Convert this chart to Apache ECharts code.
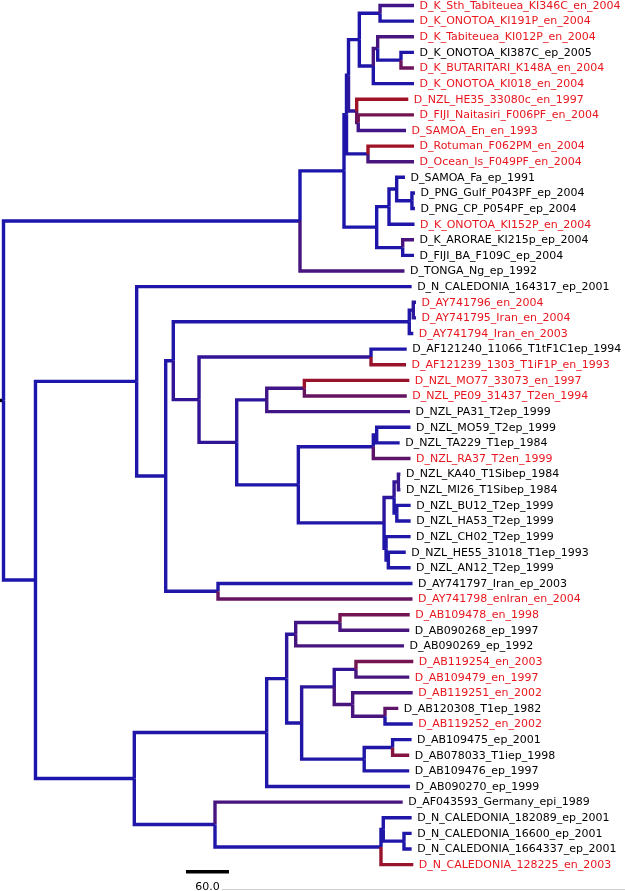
<!DOCTYPE html>
<html>
<head>
<meta charset="utf-8">
<script src="https://cdn.jsdelivr.net/npm/echarts@6/dist/echarts.min.js"></script>
<style>
html,body{margin:0;padding:0;background:#fff;}
#chart{width:625px;height:891px;}
</style>
</head>
<body>
<div id="chart"></div>
<script>
// Leaf order, top to bottom
const leafNames = [
  'D_K_Sth_Tabiteuea_KI346C_en_2004','D_K_ONOTOA_KI191P_en_2004','D_K_Tabiteuea_KI012P_en_2004',
  'D_K_ONOTOA_KI387C_ep_2005','D_K_BUTARITARI_K148A_en_2004','D_K_ONOTOA_KI018_en_2004',
  'D_NZL_HE35_33080c_en_1997','D_FIJI_Naitasiri_F006PF_en_2004','D_SAMOA_En_en_1993',
  'D_Rotuman_F062PM_en_2004','D_Ocean_Is_F049PF_en_2004','D_SAMOA_Fa_ep_1991',
  'D_PNG_Gulf_P043PF_ep_2004','D_PNG_CP_P054PF_ep_2004','D_K_ONOTOA_KI152P_en_2004',
  'D_K_ARORAE_KI215p_ep_2004','D_FIJI_BA_F109C_ep_2004','D_TONGA_Ng_ep_1992',
  'D_N_CALEDONIA_164317_ep_2001','D_AY741796_en_2004','D_AY741795_Iran_en_2004',
  'D_AY741794_Iran_en_2003','D_AF121240_11066_T1tF1C1ep_1994','D_AF121239_1303_T1iF1P_en_1993',
  'D_NZL_MO77_33073_en_1997','D_NZL_PE09_31437_T2en_1994','D_NZL_PA31_T2ep_1999',
  'D_NZL_MO59_T2ep_1999','D_NZL_TA229_T1ep_1984','D_NZL_RA37_T2en_1999',
  'D_NZL_KA40_T1Sibep_1984','D_NZL_MI26_T1Sibep_1984','D_NZL_BU12_T2ep_1999',
  'D_NZL_HA53_T2ep_1999','D_NZL_CH02_T2ep_1999','D_NZL_HE55_31018_T1ep_1993',
  'D_NZL_AN12_T2ep_1999','D_AY741797_Iran_ep_2003','D_AY741798_enIran_en_2004',
  'D_AB109478_en_1998','D_AB090268_ep_1997','D_AB090269_ep_1992',
  'D_AB119254_en_2003','D_AB109479_en_1997','D_AB119251_en_2002',
  'D_AB120308_T1ep_1982','D_AB119252_en_2002','D_AB109475_ep_2001',
  'D_AB078033_T1iep_1998','D_AB109476_ep_1997','D_AB090270_ep_1999',
  'D_AF043593_Germany_epi_1989','D_N_CALEDONIA_182089_ep_2001','D_N_CALEDONIA_16600_ep_2001',
  'D_N_CALEDONIA_1664337_ep_2001','D_N_CALEDONIA_128225_en_2003'
];

// Branches: [node, parent, branch length, trait (0 = blue ... 1 = red)]; leaves are referenced by leaf index "#i"
const rootStem = 4.9;
const topClade = [
  ['A','root',413.7,0], ['#17','A',145.8,0.3], ['C','A',61.4,0], ['E','C',3.5,0],
  ['N1_9','E',2.8,0.02], ['N1_6','N1_9',15.1,0.02], ['N1_2','N1_6',28.9,0.02],
  ['#0','N1_2',47.4,0.25], ['#1','N1_2',47.4,0.02],
  ['N3_6','N1_6',19.5,0.02], ['N3_5','N3_6',6.1,0.3], ['#2','N3_5',50.6,0.3],
  ['N4_5','N3_5',32.5,0.02], ['#3','N4_5',18.1,0.02], ['#4','N4_5',18.1,0.55],
  ['#5','N3_6',56.8,0.02],
  ['N7_9','N1_9',11.4,0.1], ['#6','N7_9',72.0,0.9], ['N8_9','N7_9',2.2,0.5],
  ['#7','N8_9',77.7,0.6], ['#8','N8_9',66.6,0.25],
  ['N10_11','E',30.0,0.02], ['#9','N10_11',64.2,0.9], ['#10','N10_11',64.2,0.3],
  ['F','C',45.6,0], ['G','F',17.2,0], ['N12_14','G',10.7,0.02], ['#11','N12_14',11.6,0.02],
  ['N13_14','N12_14',21.3,0.02], ['#12','N13_14',4.2,0.02], ['#13','N13_14',4.2,0.02],
  ['#14','G',35.6,0.02], ['N16_17','F',36.3,0.02], ['#15','N16_17',15.8,0.3], ['#16','N16_17',15.8,0.02]
];
const middleClade = [
  ['H','root',44.6,0], ['I','H',141.2,0], ['#18','I',383.7,0.02], ['K','I',40.5,0.02],
  ['M','K',10.6,0.03], ['N20_22','M',329.3,0.03], ['N20_21','N20_22',5.6,0.03],
  ['#19','N20_21',3.8,0.1], ['#20','N20_21',3.8,0.1], ['#21','N20_22',5.6,0.03],
  ['Nn','M',35.9,0.15], ['O','Nn',240.0,0.15], ['#22','O',49.8,0.02], ['#23','O',48.8,0.85],
  ['P','Nn',52.6,0.15], ['R','P',41.9,0.1], ['S','R',52.5,0.25],
  ['#24','S',146.5,0.85], ['#25','S',142.9,0.5], ['#26','R',199.9,0.25],
  ['T','P',86.0,0.03], ['U','T',104.6,0.03], ['N28_29','U',4.7,0.03],
  ['#27','N28_29',47.2,0.03], ['#28','N28_29',32.1,0.03], ['#29','U',51.9,0.45],
  ['V','T',119.6,0.03], ['W','V',14.0,0.1], ['N31_32','W',6.0,0.15],
  ['#30','N31_32',2.8,0.2], ['#31','N31_32',2.8,0.2], ['N33_34','W',3.8,0.03],
  ['#32','N33_34',19.3,0.03], ['#33','N33_34',19.3,0.03], ['N35_37','V',2.8,0.03],
  ['#34','N35_37',34.2,0.03], ['N36_37','N35_37',3.2,0.03],
  ['#35','N36_37',24.3,0.03], ['#36','N36_37',31.0,0.03],
  ['N38_39','K',73.0,0.03], ['#37','N38_39',271.4,0.03], ['#38','N38_39',271.4,0.5]
];
const bottomClade = [
  ['J','H',137.9,0], ['X','J',184.7,0.03], ['AA','X',27.9,0.03], ['BB','AA',12.6,0.1],
  ['N40_41','BB',61.8,0.25], ['#39','N40_41',97.3,0.6], ['#40','N40_41',96.7,0.3],
  ['#41','BB',151.1,0.3], ['CC','AA',20.9,0.03], ['DD','CC',45.5,0.1],
  ['EE','DD',30.3,0.15], ['#42','EE',80.0,0.6], ['#43','EE',74.4,0.3],
  ['FF','DD',25.7,0.3], ['#44','FF',83.7,0.3], ['GG','FF',45.1,0.3],
  ['#45','GG',18.6,0.45], ['#46','GG',38.7,0.03],
  ['HH','CC',87.3,0.03], ['II','HH',39.6,0.03], ['#47','II',26.5,0.03], ['#48','II',23.2,0.7],
  ['#49','HH',62.8,0.03], ['#50','X',199.9,0.03],
  ['Y','J',112.6,0.03], ['#51','Y',261.9,0.3], ['Z','Y',231.6,0.03],
  ['N53_55','Z',3.2,0.03], ['#52','N53_55',39.6,0.03], ['N54_55','N53_55',28.9,0.03],
  ['#53','N54_55',10.7,0.03], ['#54','N54_55',10.7,0.03], ['#55','Z',45.1,0.85]
];
const scaleBarLength = 60.0;
const scaleBarStart = 254.6;

// ---- build tree geometry (in tree units / leaf index) ----
const branches = topClade.concat(middleClade, bottomClade);
const info = {root: {parent: null, len: 0, trait: -1, children: []}};
branches.forEach(b => { info[b[0]] = {parent: b[1], len: b[2], trait: b[3], children: []}; });
branches.forEach(b => { info[b[1]].children.push(b[0]); });
const X = {}, Y = {};
function setX(id, x) { X[id] = x; info[id].children.forEach(c => setX(c, x + info[c].len)); }
setX('root', 0);
function setY(id) {
  if (id[0] === '#') { Y[id] = +id.slice(1); return Y[id]; }
  const ys = info[id].children.map(setY);
  Y[id] = (Math.min(...ys) + Math.max(...ys)) / 2;
  return Y[id];
}
setY('root');

const data = [];
data.push([-rootStem, 0, Y.root, Y.root, -1, -1]);
branches.forEach(b => {
  const id = b[0], p = b[1];
  data.push([X[p], X[id], Y[p], Y[id], b[3], id[0] === '#' ? +id.slice(1) : -1]);
});

function traitColor(t) {
  if (t < 0) return '#000000';
  const a = [28, 22, 172], z = [175, 18, 22];
  const c = a.map((v, i) => Math.round(v + (z[i] - v) * t));
  return 'rgb(' + c.join(',') + ')';
}

const chart = echarts.init(document.getElementById('chart'), null, {renderer: 'canvas'});
chart.setOption({
  animation: false,
  backgroundColor: '#ffffff',
  grid: {left: 0, right: 0, top: 5.5, bottom: 26.4},
  xAxis: {type: 'value', min: -4.9, max: 867.2, show: false},
  yAxis: {type: 'value', inverse: true, min: 0, max: 55, show: false},
  graphic: [{
    type: 'line', shape: {x1: 222, y1: 889.5, x2: 625, y2: 889.5},
    style: {stroke: '#cfcfcf', lineWidth: 1}, silent: true
  }],
  series: [{
    type: 'custom',
    clip: false,
    data: data,
    renderItem: function (params, api) {
      const x0 = api.value(0), x1 = api.value(1), y0 = api.value(2), y1 = api.value(3);
      const t = api.value(4), leaf = api.value(5);
      const p0 = api.coord([x0, y0]), p1 = api.coord([x0, y1]), p2 = api.coord([x1, y1]);
      const children = [{
        type: 'polyline',
        shape: {points: [p0, p1, p2]},
        style: {stroke: traitColor(t), lineWidth: 3.4, fill: null, lineJoin: 'miter', lineCap: 'butt'}
      }];
      if (leaf >= 0) {
        const name = leafNames[leaf];
        children.push({
          type: 'text',
          style: {
            x: p2[0] + 5.5, y: p2[1] + 0.5, text: name,
            fill: /en_\d{4}$/.test(name) ? '#e8171f' : '#000000',
            font: '11px "DejaVu Sans"', verticalAlign: 'middle', align: 'left'
          }
        });
      }
      return {type: 'group', children: children};
    }
  }, {
    type: 'custom',
    clip: false,
    data: [[scaleBarStart, scaleBarLength, 55.45]],
    renderItem: function (params, api) {
      const a = api.coord([api.value(0), api.value(2)]);
      const b = api.coord([api.value(0) + api.value(1), api.value(2)]);
      return {type: 'group', children: [
        {type: 'line', shape: {x1: a[0], y1: a[1], x2: b[0], y2: b[1]}, style: {stroke: '#000', lineWidth: 3.5}},
        {type: 'text', style: {x: (a[0] + b[0]) / 2, y: a[1] + 10, text: api.value(1).toFixed(1),
          fill: '#000', font: '11px "DejaVu Sans"', align: 'center', verticalAlign: 'top'}}
      ]};
    }
  }]
});
</script>
</body>
</html>
